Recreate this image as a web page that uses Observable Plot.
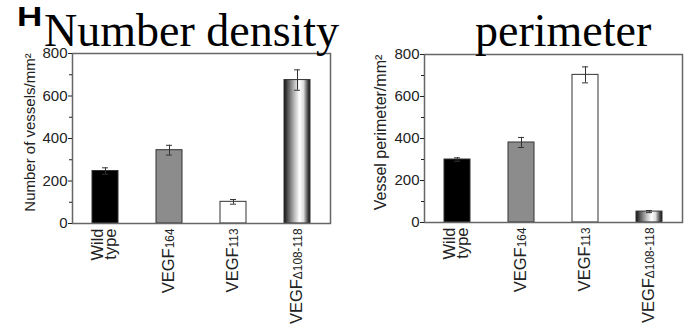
<!DOCTYPE html>
<html><head><meta charset="utf-8">
<script src="https://cdn.jsdelivr.net/npm/d3@7"></script>
<script src="https://cdn.jsdelivr.net/npm/@observablehq/plot@0.6"></script>
<style>
body{margin:0;background:#fff;}
#wrap{position:relative;width:684px;height:324px;overflow:hidden;background:#fff;}
.panel{position:absolute;top:0;}
.title{position:absolute;font-family:"Liberation Serif","Times New Roman",serif;font-size:46px;line-height:30px;color:#000;white-space:nowrap;z-index:2;}
#H{position:absolute;left:17px;top:7px;font-family:"Liberation Sans",Arial,sans-serif;font-weight:bold;font-size:28px;line-height:20px;transform:scaleX(1.25);transform-origin:left top;z-index:2;}
</style></head>
<body><div id="wrap">
<div id="left" class="panel" style="left:0"></div>
<div id="right" class="panel" style="left:340px"></div>
<div id="H">H</div>
<div class="title" style="left:44px;top:15.5px">Number density</div>
<div class="title" style="left:475px;top:15.5px">perimeter</div>
</div>
<script>
const categories = ["Wild\ntype", "VEGF164", "VEGF113", "VEGFΔ108-118"];
const densityValues = [247, 345, 102, 675];
const densityErrors = [15, 23, 11, 48];
const perimeterValues = [300, 381, 703, 52];
const perimeterErrors = [8, 24, 38, 5];
const majorTicks = [0, 200, 400, 600, 800];
const minorTicks = [100, 300, 500, 700];
const densityLabel = "Number of vessels/mm²";
const perimeterLabel = "Vessel perimeter/mm²";
const barFills = ["#000", "#8c8c8c", "#fff", "url(#cyl)"];

function panel(values, errors, o) {
  const data = categories.map((c, i) => ({cat: c, v: values[i], lo: values[i] - errors[i], hi: values[i] + errors[i], fill: barFills[i]}));
  const svg = Plot.plot({
    width: o.width, height: 324,
    marginLeft: o.ml, marginRight: o.mr, marginTop: o.mt, marginBottom: o.mb,
    style: {fontFamily: "'Liberation Sans', Arial, Helvetica, sans-serif", fontSize: "14px", color: "#222", background: "transparent", overflow: "visible"},
    x: {domain: categories, paddingInner: 0.6, paddingOuter: 0.3, label: null},
    y: {domain: [0, 800], label: null},
    color: {type: "identity"},
    marks: [
      Plot.barY(data, {x: "cat", y: "v", fill: "fill", stroke: "#333", strokeWidth: 1}),
      Plot.ruleX(data, {x: "cat", y1: "lo", y2: "hi", stroke: "#333", strokeWidth: 1}),
      Plot.tickY(data, {x: "cat", y: "hi", insetLeft: 10, insetRight: 10, stroke: "#333", strokeWidth: 1}),
      Plot.tickY(data, {x: "cat", y: "lo", insetLeft: 10, insetRight: 10, stroke: "#333", strokeWidth: 1}),
      Plot.frame({stroke: "#666", strokeWidth: 1.5}),
      Plot.axisY({ticks: majorTicks, tickSize: 4, tickPadding: 1, label: null, fontSize: 15}),
      Plot.axisY({ticks: minorTicks, tickSize: 3, tickFormat: () => "", label: null}),
      Plot.axisX({tickSize: 0, tickRotate: -90, tickPadding: 5, fontSize: 16.5, lineHeight: 0.8, label: null}),
      Plot.text([o.label], {frameAnchor: "left", rotate: -90, textAnchor: "middle", dx: o.ldx, dy: -6, fontSize: o.lfs, fill: "#222"})
    ]
  });
  const s = d3.select(svg);
  const defs = s.insert("defs", ":first-child");
  const g = defs.append("linearGradient").attr("id", o.gid).attr("x1", "0").attr("x2", "1").attr("y1", "0").attr("y2", "0");
  [[0, "#111"], [0.15, "#555"], [0.4, "#bbb"], [0.6, "#fff"], [0.75, "#ddd"], [0.9, "#555"], [1, "#111"]]
    .forEach(([off, col]) => g.append("stop").attr("offset", off).attr("stop-color", col));
  s.selectAll("rect").filter(function () { return this.getAttribute("fill") === "url(#cyl)"; }).attr("fill", `url(#${o.gid})`);
  s.selectAll("text").each(function () {
    const t = this.textContent;
    if (/^VEGF/.test(t) && this.querySelectorAll("tspan").length === 0) {
      const rest = t.slice(4);
      this.textContent = "VEGF";
      d3.select(this).append("tspan").attr("font-size", "0.72em").text(rest);
    }
  });
  return svg;
}

document.getElementById("left").appendChild(panel(densityValues, densityErrors, {width: 340, ml: 72, mr: 10, mt: 53, mb: 101, label: densityLabel, ldx: -42, lfs: 15, gid: "cylA"}));
document.getElementById("right").appendChild(panel(perimeterValues, perimeterErrors, {width: 344, ml: 84, mr: 2, mt: 54, mb: 102, label: perimeterLabel, ldx: -44, lfs: 16, gid: "cylB"}));
</script>
</body></html>
